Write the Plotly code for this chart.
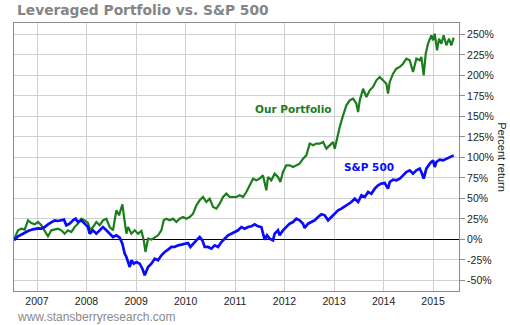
import pandas as pd
import plotly.graph_objects as go

# ---- data (decimal years, percent return) ----
port_t = [2006.535, 2006.616, 2006.684, 2006.751, 2006.818, 2006.886, 2006.953, 2007.020, 2007.088, 2007.155,
          2007.222, 2007.290, 2007.357, 2007.424, 2007.492, 2007.559, 2007.626, 2007.694, 2007.761, 2007.828,
          2007.896, 2007.963, 2008.030, 2008.077, 2008.131, 2008.199, 2008.266, 2008.333, 2008.401, 2008.468,
          2008.535, 2008.603, 2008.657, 2008.724, 2008.758, 2008.805, 2008.838, 2008.906, 2008.973, 2009.040,
          2009.108, 2009.155, 2009.189, 2009.242, 2009.310, 2009.377, 2009.444, 2009.512, 2009.559, 2009.613,
          2009.680, 2009.747, 2009.815, 2009.882, 2009.949, 2010.017, 2010.084, 2010.152, 2010.219, 2010.286,
          2010.354, 2010.421, 2010.488, 2010.556, 2010.623, 2010.690, 2010.758, 2010.825, 2010.892, 2010.960,
          2011.027, 2011.094, 2011.162, 2011.229, 2011.296, 2011.364, 2011.431, 2011.498, 2011.566, 2011.599,
          2011.633, 2011.667, 2011.734, 2011.801, 2011.869, 2011.916, 2011.970, 2012.037, 2012.104, 2012.172,
          2012.239, 2012.306, 2012.374, 2012.441, 2012.508, 2012.576, 2012.643, 2012.710, 2012.778, 2012.845,
          2012.912, 2012.980, 2013.013, 2013.047, 2013.114, 2013.182, 2013.249, 2013.316, 2013.384, 2013.451,
          2013.485, 2013.519, 2013.586, 2013.653, 2013.721, 2013.788, 2013.855, 2013.923, 2013.990, 2014.057,
          2014.091, 2014.125, 2014.192, 2014.259, 2014.327, 2014.394, 2014.461, 2014.529, 2014.596, 2014.630,
          2014.663, 2014.731, 2014.764, 2014.811, 2014.852, 2014.899, 2014.966, 2015.000, 2015.034, 2015.081,
          2015.121, 2015.168, 2015.215, 2015.269, 2015.323, 2015.370, 2015.418]
port_v = [0.0, 11.0, 13.0, 11.8, 23.2, 19.9, 18.3, 21.1, 17.1, 11.0,
          3.7, 11.0, 11.8, 13.0, 11.0, 6.9, 11.0, 8.9, 15.0, 19.1,
          25.2, 23.2, 19.9, 11.0, 15.0, 21.1, 17.1, 23.2, 25.2, 15.0,
          11.0, 35.4, 29.3, 42.7, 27.2, 6.9, 15.0, 6.9, 11.0, 6.9,
          10.2, -1.2, -15.4, 0.8, -0.4, 2.8, 4.9, 11.0, 23.2, 25.2,
          23.2, 25.2, 21.1, 25.2, 27.2, 25.2, 27.2, 31.3, 41.5, 47.6,
          51.6, 45.5, 49.6, 39.4, 37.4, 43.5, 51.6, 55.7, 51.6, 51.6,
          51.6, 53.7, 51.6, 57.7, 65.9, 74.0, 72.0, 74.0, 78.0, 69.9,
          59.8, 76.0, 72.0, 80.1, 76.0, 69.9, 82.1, 90.2, 90.2, 88.2,
          90.2, 92.3, 98.4, 102.4, 116.7, 114.6, 116.7, 116.7, 118.7, 110.6,
          114.6, 118.7, 110.6, 120.7, 137.0, 151.2, 163.4, 169.5, 171.5, 165.4,
          155.3, 169.5, 183.7, 173.6, 181.7, 185.8, 193.9, 198.0, 193.9, 189.8,
          177.6, 191.9, 202.0, 208.1, 210.2, 214.2, 220.3, 218.3, 204.1, 214.2,
          220.3, 218.3, 222.4, 200.0, 226.4, 238.6, 248.8, 242.7, 250.8, 230.5,
          244.7, 238.6, 248.8, 236.6, 244.7, 236.6, 245.9]

spx_t = [2006.535, 2006.616, 2006.717, 2006.818, 2006.919, 2007.020, 2007.088, 2007.155, 2007.222, 2007.290,
         2007.357, 2007.424, 2007.492, 2007.545, 2007.593, 2007.660, 2007.727, 2007.781, 2007.828, 2007.896,
         2007.963, 2008.030, 2008.064, 2008.131, 2008.199, 2008.266, 2008.333, 2008.401, 2008.468, 2008.535,
         2008.603, 2008.670, 2008.724, 2008.771, 2008.805, 2008.872, 2008.906, 2008.953, 2009.007, 2009.074,
         2009.128, 2009.175, 2009.242, 2009.310, 2009.377, 2009.444, 2009.512, 2009.579, 2009.646, 2009.714,
         2009.781, 2009.848, 2009.916, 2009.983, 2010.051, 2010.098, 2010.152, 2010.219, 2010.286, 2010.340,
         2010.387, 2010.455, 2010.522, 2010.589, 2010.657, 2010.724, 2010.791, 2010.859, 2010.926, 2010.993,
         2011.061, 2011.128, 2011.195, 2011.263, 2011.330, 2011.397, 2011.465, 2011.532, 2011.566, 2011.599,
         2011.646, 2011.700, 2011.768, 2011.801, 2011.869, 2011.902, 2011.970, 2012.037, 2012.104, 2012.172,
         2012.239, 2012.306, 2012.374, 2012.407, 2012.475, 2012.542, 2012.609, 2012.677, 2012.744, 2012.811,
         2012.879, 2012.946, 2013.013, 2013.081, 2013.148, 2013.215, 2013.283, 2013.350, 2013.418, 2013.485,
         2013.552, 2013.620, 2013.687, 2013.754, 2013.822, 2013.889, 2013.956, 2014.024, 2014.091, 2014.125,
         2014.192, 2014.259, 2014.327, 2014.394, 2014.461, 2014.529, 2014.596, 2014.663, 2014.731, 2014.764,
         2014.811, 2014.865, 2014.933, 2015.000, 2015.034, 2015.067, 2015.135, 2015.202, 2015.269, 2015.337,
         2015.418]
spx_v = [-1.2, 3.7, 6.9, 10.2, 12.2, 13.4, 13.0, 15.0, 18.3, 21.1,
         23.2, 22.4, 23.2, 24.0, 17.1, 19.1, 23.2, 25.2, 21.1, 23.2,
         19.1, 15.0, 6.9, 11.0, 6.9, 11.0, 15.0, 11.0, 6.9, 2.8,
         4.9, 2.0, -5.3, -17.5, -21.5, -33.7, -25.6, -29.7, -27.6, -29.7,
         -35.8, -43.9, -33.7, -29.7, -23.6, -25.6, -19.5, -15.4, -12.6, -9.3,
         -9.3, -7.3, -6.5, -5.3, -4.5, -9.3, -5.3, -1.2, 2.8, -1.2,
         -9.3, -9.3, -11.4, -7.3, -9.3, -3.3, 0.8, 4.9, 6.9, 8.9,
         11.0, 15.0, 13.0, 15.0, 15.9, 18.3, 15.9, 15.0, 6.9, -0.4,
         4.9, 0.8, -1.2, 6.9, 11.0, 4.9, 11.0, 15.0, 19.1, 21.1,
         25.2, 23.2, 19.1, 13.8, 19.1, 21.1, 23.2, 27.2, 30.5, 29.3,
         23.2, 27.2, 31.3, 35.4, 37.4, 40.2, 42.7, 45.5, 49.6, 45.5,
         53.7, 51.6, 57.7, 55.7, 61.8, 65.9, 67.9, 68.7, 61.8, 69.9,
         72.8, 72.0, 74.0, 78.0, 82.1, 84.1, 80.1, 84.1, 86.2, 82.1,
         74.0, 86.2, 92.3, 96.3, 88.2, 94.3, 97.2, 96.3, 98.4, 99.6,
         102.4]

years = [2007, 2008, 2009, 2010, 2011, 2012, 2013, 2014, 2015]
y_ticks = [-50, -25, 0, 25, 50, 75, 100, 125, 150, 175, 200, 225, 250]
y_tick_text = [f"{v}%" for v in y_ticks]


def to_date(t):
    y = int(t)
    start = pd.Timestamp(y, 1, 1)
    end = pd.Timestamp(y + 1, 1, 1)
    return start + (end - start) * (t - y)


port_d = [to_date(t) for t in port_t]
spx_d = [to_date(t) for t in spx_t]

GREEN = "#1b7d1b"
BLUE = "#0a0aff"

fig = go.Figure()
fig.add_trace(go.Scatter(x=port_d, y=port_v, mode="lines",
                         line=dict(color=GREEN, width=2.2), hoverinfo="skip"))
fig.add_trace(go.Scatter(x=spx_d, y=spx_v, mode="lines",
                         line=dict(color=BLUE, width=2.7), hoverinfo="skip"))

fig.update_layout(
    width=510, height=325,
    margin=dict(l=14, r=51, t=23, b=34),
    paper_bgcolor="white", plot_bgcolor="white",
    showlegend=False,
    title=dict(text="<b>Leveraged Portfolio vs. S&P 500</b>",
               x=17 / 510, xanchor="left", xref="container",
               y=1 - 10 / 325, yanchor="middle", yref="container",
               font=dict(family="DejaVu Sans", size=13.8, color="#858585")),
    xaxis=dict(type="date",
               range=[to_date(2006.535), to_date(2015.525)],
               tickvals=[pd.Timestamp(y, 1, 1) for y in years],
               ticktext=[str(y) for y in years],
               showgrid=True, gridcolor="#d0d0d0", gridwidth=1,
               showline=True, linecolor="#8c8c8c", linewidth=1, mirror=True,
               ticks="", tickfont=dict(family="Liberation Sans", size=10.5, color="#222")),
    yaxis=dict(side="right", range=[-63.0, 263.8],
               tickmode="array", tickvals=y_ticks, ticktext=y_tick_text,
               showgrid=True, gridcolor="#d0d0d0", gridwidth=1,
               zeroline=True, zerolinecolor="black", zerolinewidth=1,
               showline=True, linecolor="#8c8c8c", linewidth=1, mirror=True,
               ticks="outside", ticklen=5, tickcolor="#8c8c8c",
               tickfont=dict(family="Liberation Sans", size=10.5, color="#222")),
    annotations=[
        dict(text="Percent return", xref="paper", yref="paper", x=1.098, y=0.5007,
             xanchor="center", yanchor="middle", textangle=90, showarrow=False,
             font=dict(family="Liberation Sans", size=11, color="#222")),
        dict(text="<b>Our Portfolio</b>", xref="paper", yref="paper", x=0.628, y=0.678,
             xanchor="center", yanchor="middle", showarrow=False,
             font=dict(family="DejaVu Sans", size=10.5, color=GREEN)),
        dict(text="<b>S&P 500</b>", xref="paper", yref="paper", x=0.798, y=0.463,
             xanchor="center", yanchor="middle", showarrow=False,
             font=dict(family="DejaVu Sans", size=10.5, color=BLUE)),
        dict(text="www.stansberryresearch.com", xref="paper", yref="paper", x=0.0016, y=-0.098,
             xanchor="left", yanchor="middle", showarrow=False,
             font=dict(family="Liberation Sans", size=12, color="#8a8a8a")),
    ],
)

fig.write_html("out.html")
